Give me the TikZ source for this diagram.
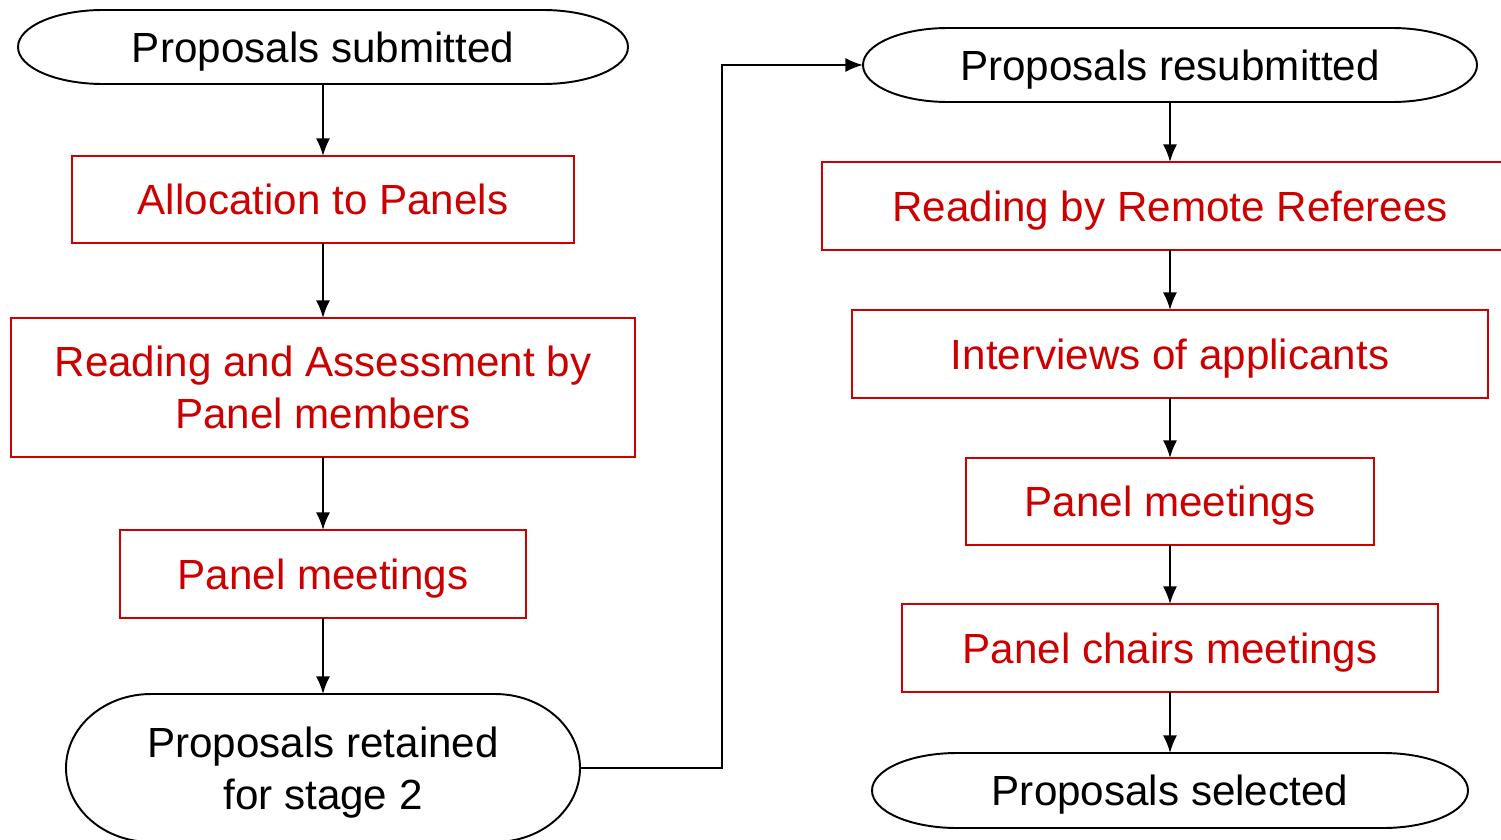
\documentclass[tikz,border=0pt]{standalone}
\usepackage{fontspec}
\setmainfont{Liberation Sans}
\usetikzlibrary{arrows.meta}
\definecolor{boxred}{RGB}{204,0,0}

% outline of a terminal: flat top and bottom, elliptic ends
\newcommand{\termline}[2]{%
  \draw[line width=1.1pt] ([xshift=1.7cm]#1.north west) -- ([xshift=-1.7cm]#1.north east)
    arc[start angle=90, end angle=-90, x radius=1.7cm, y radius=#2]
    -- ([xshift=1.7cm]#1.south west)
    arc[start angle=270, end angle=90, x radius=1.7cm, y radius=#2] -- cycle;}

\begin{document}
\begin{tikzpicture}[>={Latex[length=10pt,width=8pt]},
    every node/.style={font=\fontsize{24}{29.5}\selectfont, align=center,
      inner sep=0pt, outer sep=0pt, text depth=0pt},
    stepbox/.style={draw=boxred, line width=0.85pt, text=boxred},
    term/.style={text=black},
    flow/.style={->, line width=1.1pt}]
       \useasboundingbox (0,0) rectangle (30.02,-16.8);

       % first stage
       \node[term, minimum width=12.2cm, minimum height=1.48cm] (submitted) at (6.46,-0.94)
       {Proposals submitted};
       \node[stepbox, minimum width=10.04cm, minimum height=1.74cm] (alloc) at (6.46,-3.99)
       {Allocation to Panels};
       \node[stepbox, minimum width=12.48cm, minimum height=2.78cm] (assess) at (6.46,-7.75)
       {Reading and Assessment by\\Panel members};
       \node[stepbox, minimum width=8.12cm, minimum height=1.76cm] (panelA) at (6.46,-11.48)
       {Panel meetings};
       \node[term, minimum width=10.28cm, minimum height=2.96cm] (retained) at (6.46,-15.36)
       {Proposals retained\\for stage 2};

       % second stage
       \node[term, minimum width=12.28cm, minimum height=1.48cm] (resubmitted) at (23.4,-1.30)
       {Proposals resubmitted};
       \node[stepbox, minimum width=13.92cm, minimum height=1.76cm] (remote) at (23.4,-4.12)
       {Reading by Remote Referees};
       \node[stepbox, minimum width=12.72cm, minimum height=1.76cm] (interviews) at (23.4,-7.08)
       {Interviews of applicants};
       \node[stepbox, minimum width=8.16cm, minimum height=1.74cm] (panelB) at (23.4,-10.03)
       {Panel meetings};
       \node[stepbox, minimum width=10.72cm, minimum height=1.76cm] (chairs) at (23.4,-12.96)
       {Panel chairs meetings};
       \node[term, minimum width=11.92cm, minimum height=1.5cm] (selected) at (23.4,-15.81)
       {Proposals selected};

       \termline{submitted}{0.74cm}
       \termline{retained}{1.48cm}
       \termline{resubmitted}{0.74cm}
       \termline{selected}{0.75cm}

       \draw[flow] (submitted) -- (alloc);
       \draw[flow] (alloc) -- (assess);
       \draw[flow] (assess) -- (panelA);
       \draw[flow] (panelA) -- (retained);
       \coordinate (turn) at (14.44,-15.36);
       \draw[flow] (retained.east) -- (turn) |- (resubmitted.west);
       \draw[flow] (resubmitted) -- (remote);
       \draw[flow] (remote) -- (interviews);
       \draw[flow] (interviews) -- (panelB);
       \draw[flow] (panelB) -- (chairs);
       \draw[flow] (chairs) -- (selected);
     \end{tikzpicture}
\end{document}
